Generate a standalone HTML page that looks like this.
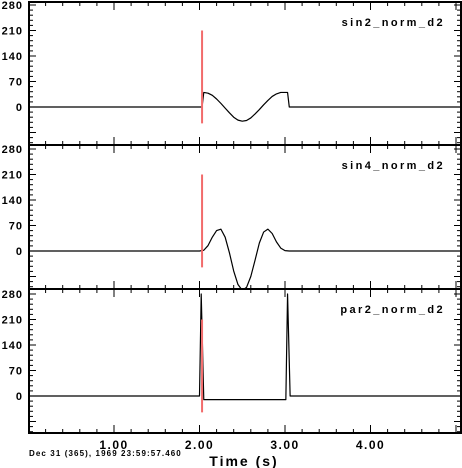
<!DOCTYPE html>
<html><head><meta charset="utf-8"><style>
html,body{margin:0;padding:0;background:#fff;}
svg{display:block;font-family:"Liberation Sans",Arial,sans-serif;font-weight:bold;}
</style></head><body>
<svg id="chart" width="462" height="468" viewBox="0 0 462 468" xmlns="http://www.w3.org/2000/svg"></svg>
<script>
const panelNames = ["sin2_norm_d2", "sin4_norm_d2", "par2_norm_d2"];
const yTicks = [0, 70, 140, 210, 280];
const xTicks = [1, 2, 3, 4];
const xTickLabels = ["1.00", "2.00", "3.00", "4.00"];
const markerTime = 2.03;
const markerRange = [-45, 210];
const sin2Times = [0, 2.00, 2.03, 2.05, 2.10, 2.15, 2.20, 2.25, 2.30, 2.35, 2.40, 2.45, 2.50, 2.55, 2.60, 2.65, 2.70, 2.75, 2.80, 2.85, 2.90, 2.95, 3.00, 3.03, 3.05, 5.06];
const sin2Values = [0, 0, 0, 40, 38, 32, 22, 10, -3, -16, -28, -36, -39, -37, -30, -19, -7, 6, 18, 29, 36, 40, 40, 40, 0, 0];
const sin4Times = [0, 2.00, 2.05, 2.10, 2.15, 2.20, 2.25, 2.30, 2.35, 2.40, 2.45, 2.50, 2.55, 2.60, 2.65, 2.70, 2.75, 2.80, 2.85, 2.90, 2.95, 3.00, 3.05, 5.06];
const sin4Values = [0, 0, 2, 15, 38, 56, 60, 38, -5, -55, -92, -108, -100, -70, -25, 22, 52, 60, 48, 25, 8, 1, 0, 0];
const par2Times = [0, 2.00, 2.02, 2.05, 3.01, 3.03, 3.06, 5.06];
const par2Values = [0, 0, 280, -10, -10, 280, 0, 0];
const seriesTimes = [sin2Times, sin4Times, par2Times];
const seriesValues = [sin2Values, sin4Values, par2Values];

const NS = "http://www.w3.org/2000/svg";
const svg = document.getElementById("chart");
const L = 29, R = 461;
const panelTop = [2, 145, 289];
const panelBot = [145, 289, 433];
const zeroY = [107, 251, 396];
const yScale = 102 / 280;
function x(t){ return 28.5 + t * 85.5; }
function y(p, v){ return zeroY[p] - v * yScale; }
function mk(tag, attrs, parent){
  const e = document.createElementNS(NS, tag);
  for (const k in attrs) e.setAttribute(k, attrs[k]);
  (parent || svg).appendChild(e);
  return e;
}
for (let p = 0; p < 3; p++) {
  const g = mk("g", {});
  
  
  const top = panelTop[p], bot = panelBot[p];
  const cp = mk("clipPath", {id: "c" + p}, g);
  mk("rect", {x: L, y: top, width: R - L, height: bot - top}, cp);
  for (let v = -112; v <= 294; v += 14) {
    const yy = y(p, v);
    if (yy < top + 1 || yy > bot - 1) continue;
    const major = v % 70 === 0;
    const len = major ? 7 : 4;
    mk("line", {x1: L, x2: L + len, y1: yy, y2: yy, stroke: "#000", "stroke-width": 1}, g);
    mk("line", {x1: R, x2: R - len, y1: yy, y2: yy, stroke: "#000", "stroke-width": 1}, g);
  }
  for (let t = 0.2; t < 5.06; t += 0.2) {
    const xx = x(t);
    const major = Math.abs(t - Math.round(t)) < 0.01;
    const len = major ? 8 : 4;
    mk("line", {x1: xx, x2: xx, y1: top, y2: top + len, stroke: "#000", "stroke-width": 1}, g);
    mk("line", {x1: xx, x2: xx, y1: bot, y2: bot - len, stroke: "#000", "stroke-width": 1}, g);
  }
  yTicks.forEach(v => {
    const t = mk("text", {x: 23, y: y(p, v) + 4, "text-anchor": "end", "font-size": 11, "letter-spacing": "1"}, g);
    t.textContent = v;
    
    
  });
  const pts = seriesTimes[p].map((tt, i) => x(tt).toFixed(2) + "," + y(p, seriesValues[p][i]).toFixed(2)).join(" ");
  const pl = mk("polyline", {points: pts, fill: "none", stroke: "#000", "stroke-width": 1.2, "stroke-linejoin": "round", "clip-path": "url(#c" + p + ")"}, g);
  
  
  const m = mk("line", {x1: x(markerTime), x2: x(markerTime), y1: y(p, markerRange[1]), y2: y(p, markerRange[0]), stroke: "#f26b6b", "stroke-width": 2}, g);
  
  
  mk("rect", {x: L, y: top, width: R - L, height: bot - top, fill: "none", stroke: "#000", "stroke-width": 2}, g);
  const title = mk("text", {x: 445, y: 26 + top - 2, "text-anchor": "end", "font-size": 11, "letter-spacing": "2.4"}, g);
  title.textContent = panelNames[p];
  
  
}
xTicks.forEach((t, i) => {
  const tx = mk("text", {x: x(t), y: 449, "text-anchor": "middle", "font-size": 12, "letter-spacing": "1.5"});
  tx.textContent = xTickLabels[i];
  
  
});
const d = mk("text", {x: 29, y: 456, "font-size": 8, "letter-spacing": "1.1"});
d.textContent = "Dec 31 (365), 1969 23:59:57.460";


const xt = mk("text", {x: 244, y: 466, "text-anchor": "middle", "font-size": 14, "letter-spacing": "2"});
xt.textContent = "Time (s)";


</script>
</body></html>
